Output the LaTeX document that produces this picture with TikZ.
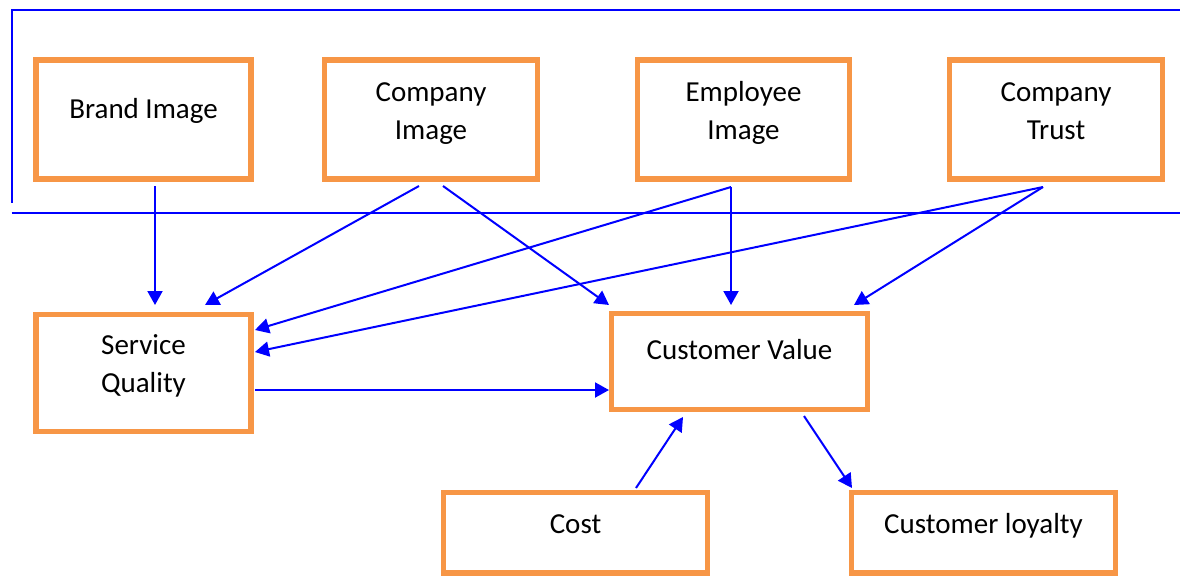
\documentclass[tikz,border=0pt]{standalone}
\usepackage{fontspec}
\setmainfont{Carlito}
\usetikzlibrary{arrows.meta}
\definecolor{boxorange}{HTML}{F79646}
\definecolor{linkblue}{HTML}{0000FF}
\tikzset{
  box/.style={draw=boxorange, line width=5.5pt, inner sep=0pt, outer sep=0pt, fill=white},
  txt/.style={anchor=base, inner sep=0pt, align=center, text=black,
              font=\fontsize{29}{38}\selectfont},
  link/.style={draw=linkblue, line width=2pt,
               -{Triangle[length=14pt,width=15pt]}},
  frameline/.style={draw=linkblue, line width=2pt}
}
\begin{document}
\begin{tikzpicture}[x=1pt,y=-1pt]
\useasboundingbox (0,0) rectangle (1180,576);

% grouping frame around the four image factors
\draw[frameline] (1180,9.5) -- (11.5,9.5) -- (11.5,203);
\draw[frameline] (11.5,212.5) -- (1180,212.5);

% factor boxes
\node[box, minimum width=215pt, minimum height=119pt] (bi) at (143.5,119.5) {};
\node[box, minimum width=213pt, minimum height=119pt] (ci) at (431,119.5) {};
\node[box, minimum width=212pt, minimum height=119pt] (ei) at (743.5,119.5) {};
\node[box, minimum width=213pt, minimum height=119pt] (ct) at (1056,119.5) {};
\node[box, minimum width=215pt, minimum height=117pt] (sq) at (143.5,373) {};
\node[box, minimum width=256pt, minimum height=96pt] (cv) at (739.5,361.5) {};
\node[box, minimum width=264pt, minimum height=80.5pt] (co) at (575.5,532.75) {};
\node[box, minimum width=264pt, minimum height=80.5pt] (cl) at (983.5,532.75) {};

% labels (base anchor sits on the last line's baseline)
\node[txt] (bi-t) at (143.5,118) {Brand Image};
\node[txt] (ci-t) at (431,139) {Company\\Image};
\node[txt] (ei-t) at (743.5,139) {Employee\\Image};
\node[txt] (ct-t) at (1056,139) {Company\\Trust};
\node[txt] (sq-t) at (143.5,392) {Service\\Quality};
\node[txt] (cv-t) at (739.5,359) {Customer Value};
\node[txt] (co-t) at (575.5,533) {Cost};
\node[txt] (cl-t) at (983.5,533) {Customer loyalty};

% influences
\draw[link] ([shift={(11.5,7)}]bi.south) -- ([shift={(11.5,-9.5)}]sq.north);
\draw[link] ([shift={(-12,7)}]ci.south) -- ([shift={(61.5,-9.5)}]sq.north);
\draw[link] ([shift={(12,7)}]ci.south) -- ([shift={(-2.5,-8.5)}]cv.north west);
\draw[link] ([shift={(-12.5,8)}]ei.south) -- ([shift={(4,-43)}]sq.east);
\draw[link] ([shift={(-12.5,8)}]ei.south) -- ([shift={(-8.5,-8.5)}]cv.north);
\draw[link] ([shift={(-13,8)}]ct.south) -- ([shift={(4,-21)}]sq.east);
\draw[link] ([shift={(-13,8)}]ct.south) -- ([shift={(-13.5,-8.5)}]cv.north east);
\draw[link] ([shift={(4,17)}]sq.east) -- ([shift={(-2.5,28.5)}]cv.west);
\draw[link] ([shift={(60.5,-4.5)}]co.north) -- ([shift={(-56.5,7.5)}]cv.south);
\draw[link] ([shift={(64.5,6.5)}]cv.south) -- ([shift={(0.5,-4.5)}]cl.north west);
\end{tikzpicture}
\end{document}
